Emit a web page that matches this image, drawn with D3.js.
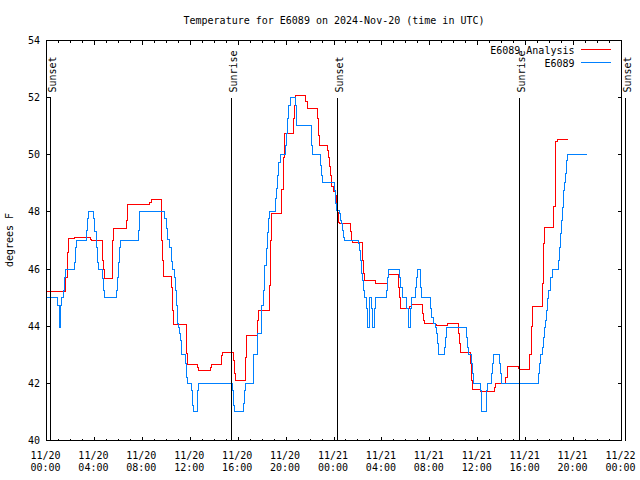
<!DOCTYPE html>
<html><head><meta charset="utf-8">
<script src="https://cdn.jsdelivr.net/npm/d3@7"></script>
<style>
body{margin:0;background:#fff;}
svg text{font-family:"DejaVu Sans Mono",monospace;font-size:10px;fill:#000;}
</style></head><body>
<svg id="chart" width="640" height="480"></svg>
<script>
const titleText = "Temperature for E6089 on 2024-Nov-20 (time in UTC)";
const yLabel = "degrees F";
const seriesNames = ["E6089 Analysis", "E6089"];
const seriesColors = ["#ff0000", "#0080ff"];
const startTime = "2024-11-20T00:00:00Z";
const endTime = "2024-11-22T00:00:00Z";
const yTicks = [40, 42, 44, 46, 48, 50, 52, 54];
// sun events: [hours from start, label]
const sunEvents = [[0.33, "Sunset"], [15.44, "Sunrise"], [24.29, "Sunset"], [39.49, "Sunrise"], [48.34, "Sunset"]];
const sunLabelValue = 52;
// [hours from start, degrees F] (value holds until next point)
const analysisSeries = [[0,45.21],[1.61,45.72],[1.72,46.59],[1.80,47.06],[2.36,47.09],[2.72,47.12],[3.64,47.05],[3.72,47.0],[4.64,46.3],[4.72,46.0],[4.80,45.66],[5.47,46.07],[5.55,47.0],[5.62,47.41],[6.65,47.7],[6.72,48.0],[6.80,48.25],[8.61,48.34],[8.75,48.42],[9.64,47.0],[9.72,46.3],[9.80,45.75],[10.45,45.37],[10.53,44.55],[10.63,44.06],[11.66,43.73],[11.72,43.03],[11.80,42.66],[12.64,42.57],[12.72,42.45],[13.66,42.57],[13.75,42.66],[14.64,42.97],[14.72,43.07],[15.64,42.8],[15.72,42.33],[15.80,42.1],[16.62,42.9],[16.70,43.68],[17.64,44.2],[17.70,44.55],[18.64,45.42],[18.70,47.0],[18.75,47.93],[19.64,48.8],[19.75,49.9],[19.83,50.73],[20.61,51.26],[20.72,51.73],[20.80,52.07],[21.66,51.85],[21.75,51.61],[22.64,51.26],[22.72,50.67],[22.80,50.33],[23.47,50.15],[23.55,49.9],[23.64,49.6],[23.72,49.27],[23.80,48.9],[23.97,48.7],[24.1,48.57],[24.22,48.34],[24.30,47.99],[24.36,47.64],[24.45,47.58],[25.41,47.3],[25.47,47.0],[25.55,46.94],[26.39,46.3],[26.47,45.83],[26.55,45.6],[27.44,45.48],[28.47,45.7],[28.55,45.81],[29.39,45.37],[29.47,45.0],[29.55,44.61],[30.30,44.68],[30.45,44.75],[31.39,44.45],[31.47,44.2],[31.55,44.11],[32.44,44.06],[32.52,44.02],[33.47,44.11],[34.39,43.73],[34.47,43.38],[34.55,43.07],[35.41,42.68],[35.47,42.1],[35.55,41.77],[36.25,41.73],[37.36,41.85],[37.50,41.98],[38.33,42.2],[38.45,42.59],[39.39,42.53],[39.47,42.47],[40.36,43.0],[40.45,44.0],[40.55,44.69],[41.39,45.5],[41.47,46.9],[41.55,47.44],[42.36,48.2],[42.45,49.8],[42.52,50.48],[42.66,50.52],[43.55,50.52]];
const stationSeries = [[0,45],[0.94,44.72],[1.05,44.26],[1.11,43.97],[1.16,44.72],[1.22,45],[1.39,45.25],[1.50,45.72],[1.61,46],[2.33,46.24],[2.41,46.77],[2.50,47],[3.30,47.35],[3.39,47.76],[3.47,48],[3.94,47.76],[4.03,47.3],[4.14,46.77],[4.22,46.24],[4.30,46],[4.64,45.66],[4.72,45.25],[4.80,45],[5.83,45.25],[5.91,45.72],[6.00,46.24],[6.08,46.77],[6.16,47],[7.69,47.35],[7.78,48],[9.88,47.76],[10.0,47.41],[10.14,47.02],[10.3,46.77],[10.42,46.26],[10.55,46],[10.66,45.72],[10.77,45.25],[10.85,44.72],[10.97,44.08],[11.05,43.97],[11.14,43.73],[11.19,43.5],[11.27,43.0],[11.63,42.68],[11.70,42.22],[11.78,42.0],[12.13,41.75],[12.19,41.22],[12.27,41.0],[12.64,41.75],[12.72,42.0],[15.55,41.75],[15.64,41.22],[15.72,41.0],[16.47,41.3],[16.55,41.75],[16.62,42.0],[17.30,43.0],[17.64,43.73],[17.92,44.72],[18.14,45.25],[18.22,46.12],[18.33,46.71],[18.44,47.29],[18.53,47.76],[18.63,48],[19.11,48.46],[19.19,48.81],[19.27,49.27],[19.39,49.74],[19.50,50.0],[19.91,50.33],[20.0,50.73],[20.14,51.26],[20.22,51.73],[20.33,52.02],[20.75,51.73],[20.83,51.26],[20.91,51.02],[22.11,50.67],[22.16,50.33],[22.22,50.0],[22.91,49.63],[22.97,49.27],[23.05,49.02],[24.02,48.75],[24.11,48.28],[24.22,48.05],[24.5,47.93],[24.58,47.7],[24.66,47.58],[24.72,47.35],[24.80,47.12],[24.89,47.0],[26.05,46.88],[26.14,46.65],[26.19,46.3],[26.27,46.07],[26.33,45.83],[26.39,45.6],[26.47,45.25],[26.55,45.0],[26.72,44.61],[26.80,43.97],[26.94,44.61],[27.0,45.0],[27.14,44.61],[27.22,43.97],[27.41,44.61],[27.47,45.0],[28.39,45.25],[28.47,45.72],[28.55,46.0],[29.5,45.72],[29.58,45.37],[29.72,45.0],[30.05,44.61],[30.22,43.97],[30.40,44.61],[30.5,45.0],[30.83,45.37],[30.91,45.72],[31.0,46.0],[31.19,45.72],[31.25,45.37],[31.33,45.0],[32.08,44.61],[32.16,44.32],[32.27,44.08],[32.44,43.97],[32.58,43.73],[32.66,43.38],[32.75,43.0],[33.19,43.27],[33.27,43.62],[33.39,43.97],[35.05,43.62],[35.14,43.27],[35.22,43.0],[35.45,42.68],[35.55,42.33],[35.65,42.0],[36.25,41.75],[36.33,41.0],[36.72,41.75],[36.8,42.0],[37.16,42.33],[37.25,42.68],[37.33,43.0],[37.83,42.68],[37.91,42.33],[38.0,42.0],[41.05,42.33],[41.16,42.68],[41.25,43.0],[41.39,43.27],[41.47,43.62],[41.55,43.97],[41.66,44.2],[41.75,44.55],[41.83,44.96],[41.94,45.25],[42.08,45.72],[42.22,46.0],[42.72,46.3],[42.80,46.77],[42.88,47.23],[42.97,47.7],[43.05,48.17],[43.14,48.75],[43.22,49.04],[43.33,49.33],[43.41,49.8],[43.5,50.0],[45.08,50.0]];

const plotL = 46.5, plotR = 621.5, plotT = 40.5, plotB = 440.5;
const t0 = new Date(startTime), t1 = new Date(endTime);
const toDate = h => new Date(t0.getTime() + h * 3600e3);
const x = d3.scaleUtc().domain([t0, t1]).range([plotL, plotR]);
const y = d3.scaleLinear().domain([40, 54]).range([plotB, plotT]);
const svg = d3.select("#chart");

// title
svg.append("text").attr("x", 334).attr("y", 24).attr("text-anchor", "middle").text(titleText);

// y label
svg.append("text").attr("transform", "translate(13,240) rotate(-90)").attr("text-anchor", "middle").text(yLabel);

// data lines
const line = d3.line().x(d => x(toDate(d[0]))).y(d => y(d[1])).curve(d3.curveStepAfter);
[analysisSeries, stationSeries].forEach((s, i) => {
  svg.append("path").datum(s).attr("d", line).attr("fill", "none")
    .attr("stroke", seriesColors[i]).attr("stroke-width", 1).attr("shape-rendering", "crispEdges");
});

// sun event lines and labels
const ev = svg.append("g");
sunEvents.forEach(([h, lab]) => {
  const xv = Math.round(x(toDate(h)) - 0.5) + 0.5;
  ev.append("line").attr("x1", xv).attr("x2", xv).attr("y1", y(sunLabelValue)).attr("y2", plotB)
    .attr("stroke", "#000").attr("stroke-width", 1).attr("shape-rendering", "crispEdges");
  ev.append("text").attr("transform", `translate(${xv + 5},92.5) rotate(-90)`).text(lab);
});

// axes ticks
const major = d3.utcHour.every(4).range(t0, new Date(+t1 + 1));
const minor = d3.utcHour.every(1).range(t0, new Date(+t1 + 1));
function addAxis(axis, tr) {
  const g = svg.append("g").attr("transform", tr).call(axis);
  g.select(".domain").remove();
  g.selectAll("line").attr("stroke", "#000").attr("shape-rendering", "crispEdges");
  g.selectAll("text").remove();
}
addAxis(d3.axisBottom(x).tickValues(minor).tickSize(-2).offset(0), `translate(0,${plotB})`);
addAxis(d3.axisBottom(x).tickValues(major).tickSize(-4).offset(0), `translate(0,${plotB})`);
addAxis(d3.axisTop(x).tickValues(minor).tickSize(-2).offset(0), `translate(0,${plotT})`);
addAxis(d3.axisTop(x).tickValues(major).tickSize(-4).offset(0), `translate(0,${plotT})`);
addAxis(d3.axisLeft(y).tickValues(yTicks).tickSize(-4).offset(0), `translate(${plotL},0)`);
addAxis(d3.axisRight(y).tickValues(yTicks).tickSize(-4).offset(0), `translate(${plotR},0)`);

// border
svg.append("rect").attr("x", plotL).attr("y", plotT).attr("width", plotR - plotL).attr("height", plotB - plotT)
  .attr("fill", "none").attr("stroke", "#000").attr("shape-rendering", "crispEdges");

// tick labels
const fmtD = d3.utcFormat("%m/%d"), fmtT = d3.utcFormat("%H:%M");
major.forEach(d => {
  const t = svg.append("text").attr("text-anchor", "middle");
  t.append("tspan").attr("x", x(d) - 1).attr("y", 458.5).text(fmtD(d));
  t.append("tspan").attr("x", x(d) - 1).attr("y", 470.5).text(fmtT(d));
});
yTicks.forEach(v => {
  svg.append("text").attr("x", 40).attr("y", y(v) + 3.5).attr("text-anchor", "end").text(v);
});

// legend
seriesNames.forEach((n, i) => {
  const ly = 49.5 + i * 13;
  svg.append("text").attr("x", 574.5).attr("y", ly + 4).attr("text-anchor", "end").text(n);
  svg.append("line").attr("x1", 581).attr("x2", 611).attr("y1", ly).attr("y2", ly)
    .attr("stroke", seriesColors[i]).attr("stroke-width", 1).attr("shape-rendering", "crispEdges");
});
</script>
</body></html>
